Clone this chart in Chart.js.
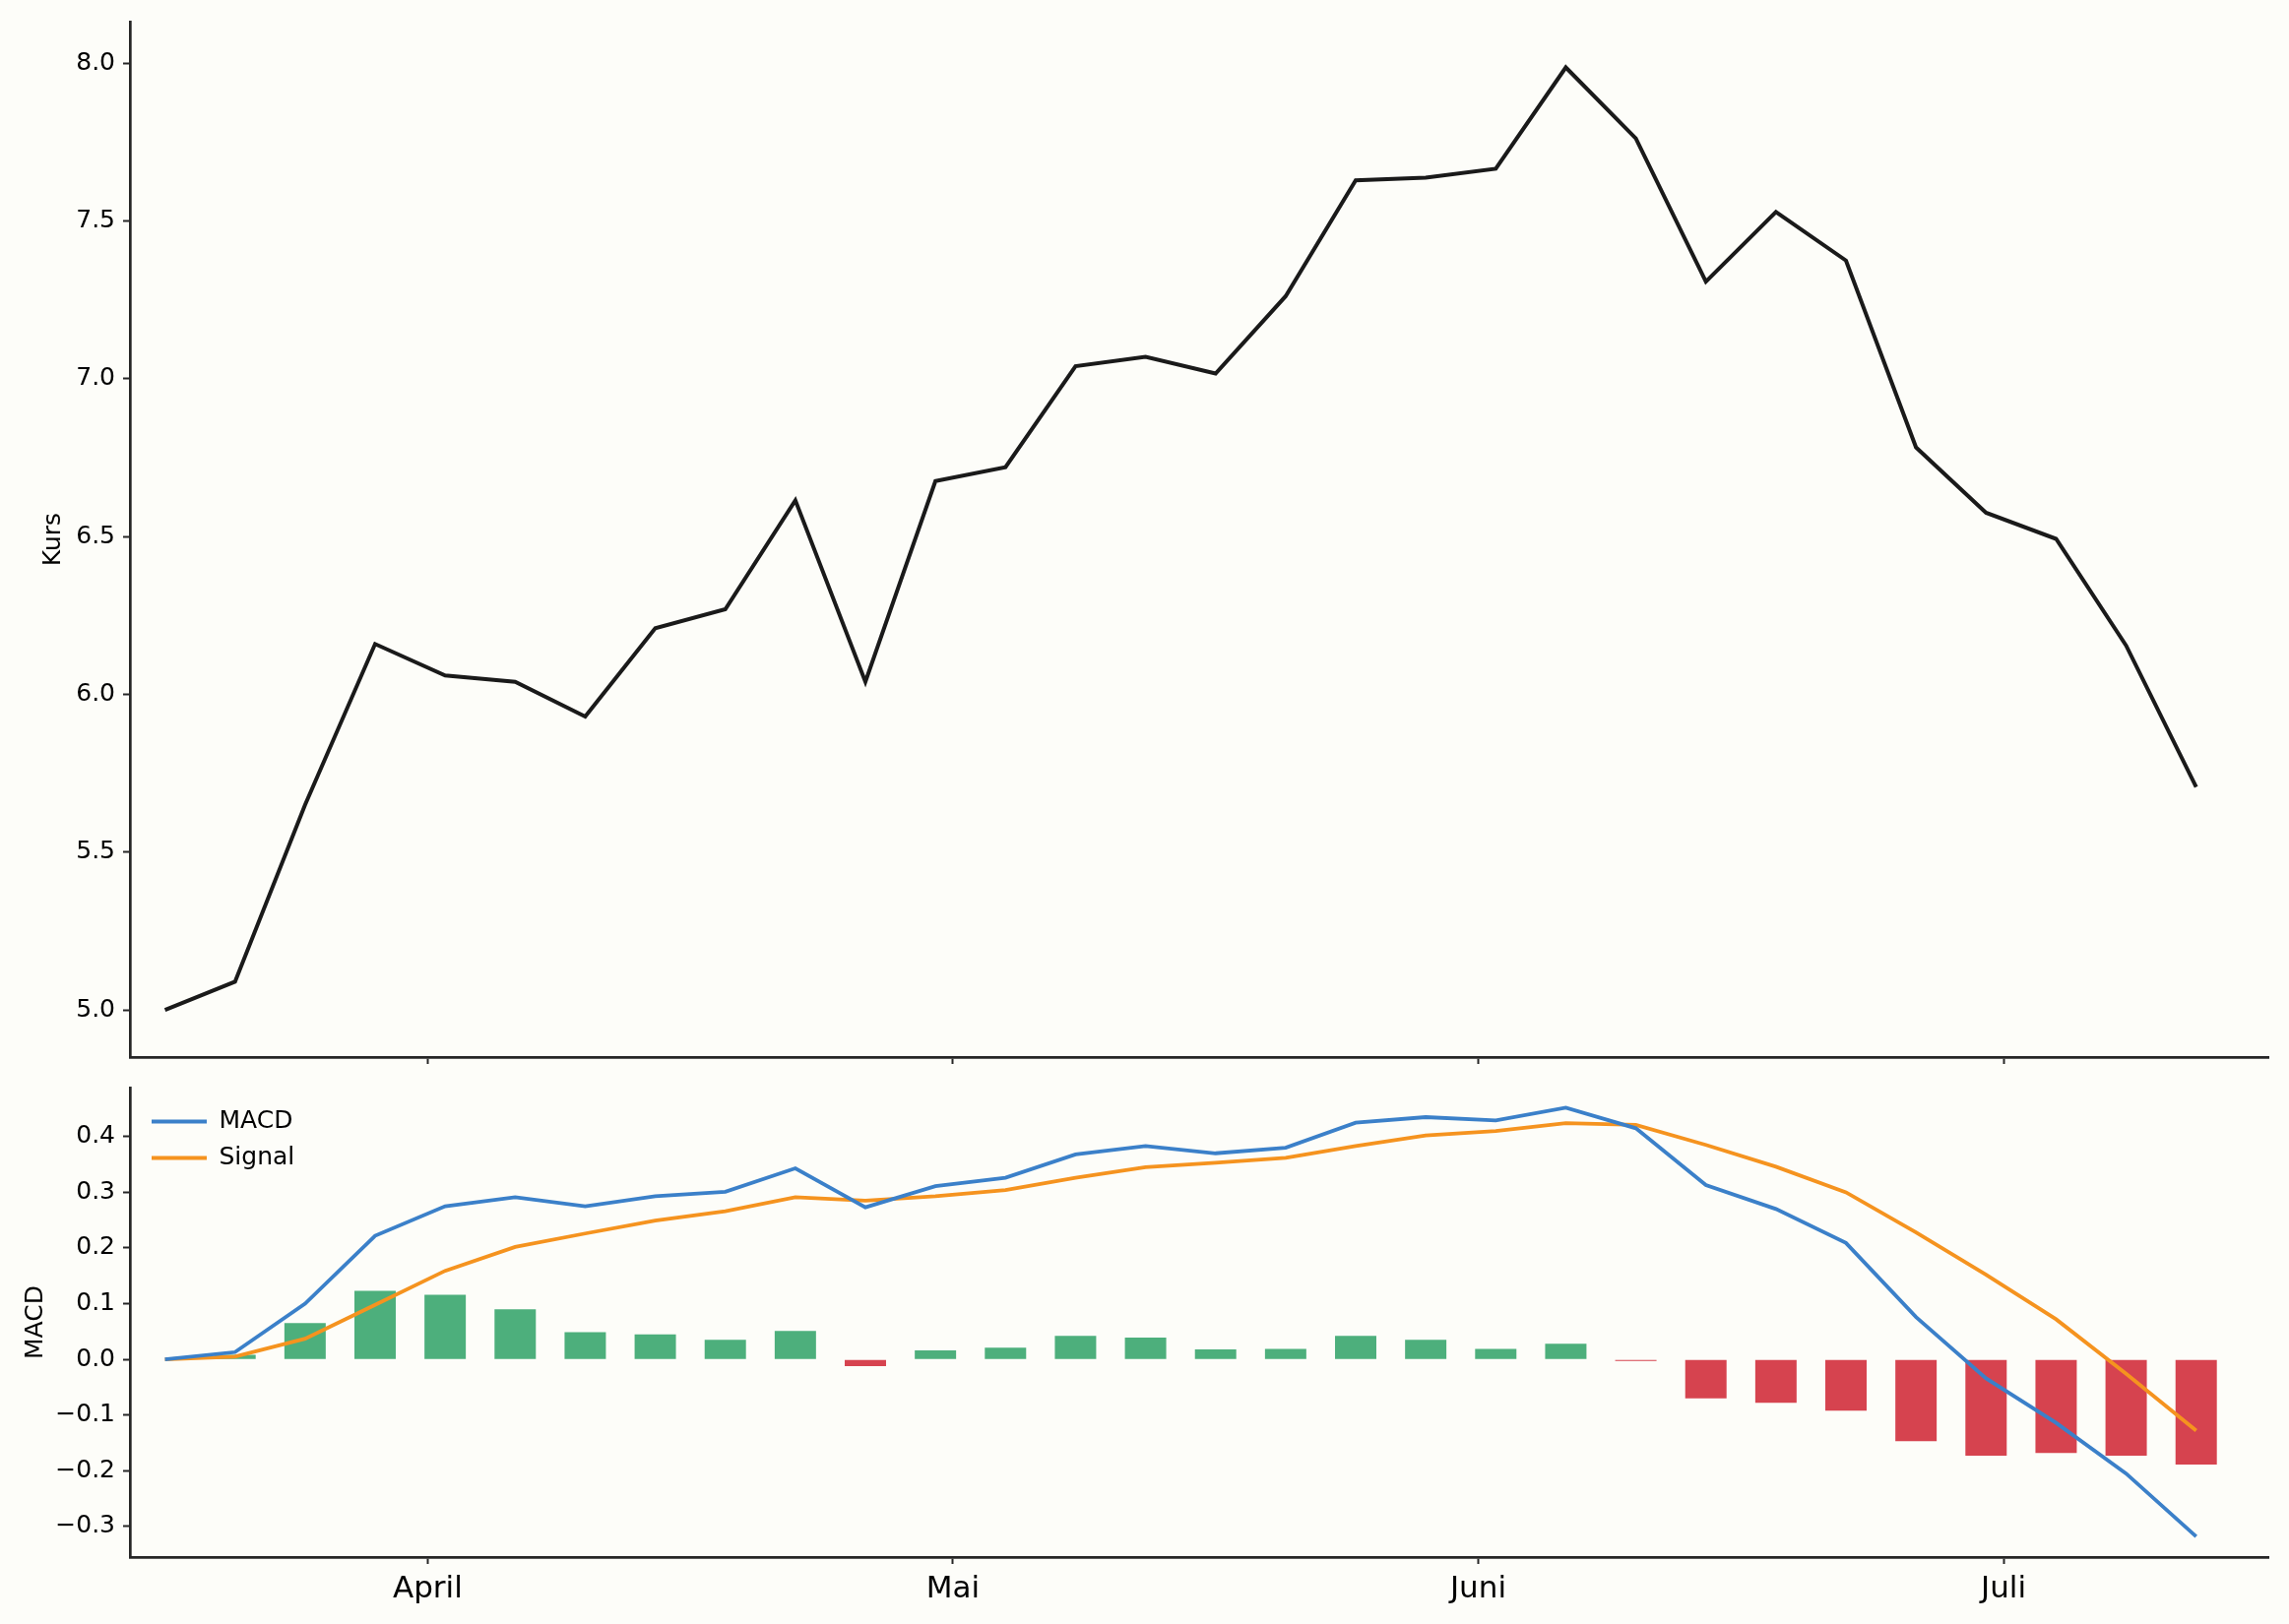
<!DOCTYPE html>
<html>
<head>
<meta charset="utf-8">
<script src="https://cdn.jsdelivr.net/npm/chart.js@4.4.1/dist/chart.umd.min.js"></script>
<style>
  html, body { margin: 0; padding: 0; background: #fdfdf9; }
  body { width: 2325px; height: 1650px; position: relative; overflow: hidden; }
  canvas { position: absolute; left: 0; }
  #top { top: 0; }
  #bottom { top: 1090px; }
</style>
</head>
<body>
<canvas id="top" width="2325" height="1090"></canvas>
<canvas id="bottom" width="2325" height="560"></canvas>
<script>
// ---- data ----
const price = [5.00, 5.09, 5.65, 6.16, 6.06, 6.04, 5.93, 6.21, 6.27, 6.615,
               6.04, 6.676, 6.72, 7.04, 7.07, 7.017, 7.262, 7.629, 7.638, 7.666,
               7.987, 7.762, 7.308, 7.529, 7.375, 6.783, 6.576, 6.493, 6.155, 5.707];
const macd = [0.000, 0.013, 0.100, 0.222, 0.275, 0.291, 0.275, 0.293, 0.301, 0.343,
              0.273, 0.311, 0.326, 0.368, 0.383, 0.370, 0.380, 0.425, 0.435, 0.429,
              0.452, 0.415, 0.313, 0.270, 0.209, 0.076, -0.034, -0.114, -0.205, -0.318];
const signal = [0.000, 0.005, 0.037, 0.098, 0.159, 0.202, 0.226, 0.249, 0.266, 0.291,
                0.285, 0.293, 0.304, 0.326, 0.345, 0.353, 0.362, 0.383, 0.402, 0.410,
                0.424, 0.421, 0.385, 0.346, 0.300, 0.228, 0.152, 0.072, -0.026, -0.128];
const hist = [0.000, 0.008, 0.065, 0.123, 0.116, 0.090, 0.049, 0.045, 0.035, 0.051,
              -0.012, 0.016, 0.021, 0.042, 0.039, 0.018, 0.019, 0.042, 0.035, 0.019,
              0.028, -0.003, -0.070, -0.078, -0.092, -0.147, -0.173, -0.168, -0.173, -0.189];
const monthTicks = [3.75, 11.25, 18.75, 26.25];
const monthLabels = ['April', 'Mai', 'Juni', 'Juli'];
const priceTicks = [5.0, 5.5, 6.0, 6.5, 7.0, 7.5, 8.0];
const macdTicks = [-0.3, -0.2, -0.1, 0.0, 0.1, 0.2, 0.3, 0.4];

// ---- styling ----
const FONT = "'DejaVu Sans'";
const AXIS = '#262626';
const C_PRICE = '#1a1a1a', C_MACD = '#3b80c9', C_SIG = '#f5931f';
const C_UP = '#4daf7c', C_DOWN = '#d6434f';

Chart.defaults.color = '#000000';
Chart.defaults.font.family = FONT;

const pts = arr => arr.map((v, i) => ({x: i, y: v}));
const fmt = v => {
  const r = Math.round(v * 10) / 10;
  return (r < 0 ? '\u2212' : '') + Math.abs(r).toFixed(1);
};
const X_MIN = -0.5, X_MAX = 30.03;

function xScale(showLabels, h) {
  return {
    type: 'linear', min: X_MIN, max: X_MAX, offset: false,
    afterBuildTicks: s => { s.ticks = monthTicks.map(v => ({value: v})); },
    afterFit: s => { s.height = h; s.paddingLeft = 0; s.paddingRight = 0; },
    grid: { display: true, offset: false, drawOnChartArea: false, drawTicks: true, tickLength: 7,
            tickWidth: 2, tickColor: AXIS },
    border: { display: true, color: AXIS, width: 2.7 },
    ticks: { display: showLabels, autoSkip: false, maxRotation: 0, padding: 7,
             font: { size: 31, family: FONT }, color: '#000',
             callback: v => monthLabels[monthTicks.indexOf(v)] }
  };
}
function yScale(min, max, tickVals, title, titlePad) {
  return {
    type: 'linear', min: min, max: max,
    afterBuildTicks: s => { s.ticks = tickVals.map(v => ({value: v})); },
    afterFit: s => { s.width = 132; s.paddingTop = 0; s.paddingBottom = 0; },
    grid: { display: true, drawOnChartArea: false, drawTicks: true, tickLength: 7,
            tickWidth: 2, tickColor: AXIS },
    border: { display: true, color: AXIS, width: 2.7 },
    ticks: { autoSkip: false, padding: 8, font: { size: 25, family: FONT }, color: '#000',
             callback: v => fmt(v) },
    title: { display: true, text: title, color: '#000', font: { size: 25, family: FONT },
             padding: { top: titlePad, bottom: 0 } }
  };
}

new Chart(document.getElementById('top'), {
  type: 'line',
  data: {
    datasets: [{
      label: 'Kurs', data: pts(price), borderColor: C_PRICE, borderWidth: 4,
      pointRadius: 0, tension: 0, fill: false
    }]
  },
  options: {
    responsive: false, animation: false, devicePixelRatio: 1,
    layout: { padding: { left: 0, top: 22, right: 21, bottom: 0 } },
    plugins: { legend: { display: false }, tooltip: { enabled: false } },
    scales: {
      x: xScale(false, 16),
      y: yScale(4.851, 8.132, priceTicks, 'Kurs', 39)
    }
  }
});

const legendPlacer = {
  id: 'legendPlacer',
  afterLayout(chart) {
    const lg = chart.legend, ca = chart.chartArea;
    if (!lg) return;
    lg.left = ca.left + 10; lg.top = ca.top + 10;
    lg.right = lg.left + lg.width; lg.bottom = lg.top + lg.height;
  }
};

new Chart(document.getElementById('bottom'), {
  type: 'bar',
  data: {
    datasets: [
      { type: 'line', label: 'MACD', data: pts(macd), borderColor: C_MACD, backgroundColor: C_MACD,
        borderWidth: 3.8, pointRadius: 0, tension: 0, fill: false, order: 0 },
      { type: 'line', label: 'Signal', data: pts(signal), borderColor: C_SIG, backgroundColor: C_SIG,
        borderWidth: 3.8, pointRadius: 0, tension: 0, fill: false, order: 1 },
      { type: 'bar', label: 'Histogramm', data: pts(hist),
        backgroundColor: ctx => (ctx.raw && ctx.raw.y < 0) ? C_DOWN : C_UP,
        borderWidth: 0, barPercentage: 0.59, categoryPercentage: 1.0, order: 2 }
    ]
  },
  options: {
    responsive: false, animation: false, devicePixelRatio: 1,
    layout: { padding: { left: 0, top: 15, right: 21, bottom: 0 } },
    plugins: {
      tooltip: { enabled: false },
      legend: {
        position: 'chartArea', align: 'start', fullSize: false,
        labels: {
          filter: item => item.text !== 'Histogramm',
          usePointStyle: true, pointStyle: 'line', pointStyleWidth: 56,
          padding: 12, color: '#000', font: { size: 25, family: FONT }
        }
      }
    },
    scales: {
      x: xScale(true, 68),
      y: yScale(-0.355, 0.488, macdTicks, 'MACD', 21)
    }
  },
  plugins: [legendPlacer]
});
</script>
</body>
</html>
